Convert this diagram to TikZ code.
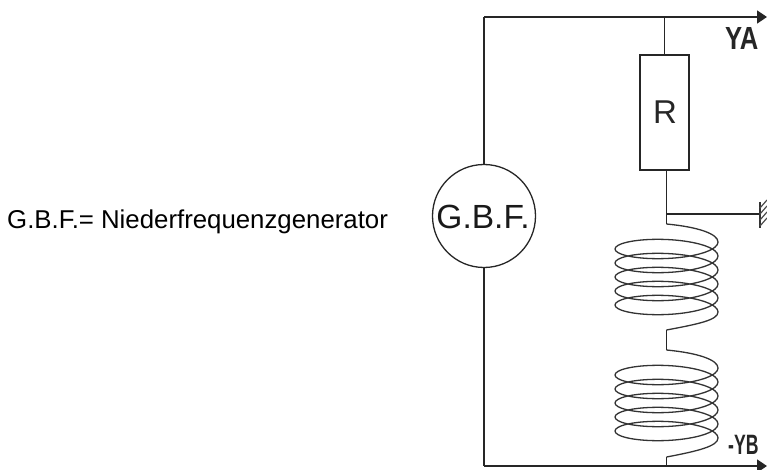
\documentclass[tikz,border=0pt]{standalone}
\usepackage{fontspec}
\setmainfont{Liberation Sans}
\usetikzlibrary{arrows.meta,positioning}
\tikzset{wire/.style={line width=1.7pt,black!85}}
\tikzset{coil/.style={line width=1.3pt,black!80}}
\tikzset{pfeil/.style={-{Triangle[length=10pt,width=13pt]}}}
\tikzset{bauteil/.style={rectangle,draw,line width=1.6pt,black!85,minimum width=49pt,minimum height=115pt,inner sep=0pt}}
\begin{document}
\begin{tikzpicture}[x=1pt,y=-1pt]
 \useasboundingbox (0,0) rectangle (767,470);
 \node[circle,draw,line width=1.3pt,black!85,minimum size=103pt,inner sep=0pt] (gbf) at (484,216) {};
 \node[font=\fontsize{33.5}{33.5}\selectfont,black!90] (gbflabel) at (483,217) {G.B.F.};
 \node[bauteil] (r) at (664.5,112.5) {};
 \node[font=\fontsize{33}{33}\selectfont,black!85] (rlabel) at (665,112) {R};
 \node[font=\fontsize{25.8}{25.8}\selectfont,anchor=west,inner sep=0pt] (text) at (7,222) {G.B.F.= Niederfrequenzgenerator};
 \node[font=\bfseries\fontsize{32}{32}\selectfont,black!85,anchor=west,inner sep=0pt] (ya) at (725,38) {\scalebox{.8}[1]{YA}};
 \node[font=\bfseries\fontsize{28}{28}\selectfont,black!85,anchor=west,inner sep=0pt] (yb) at (728,445) {\scalebox{.63}[1]{-YB}};
 \coordinate (ecke1) at (484,17);
 \coordinate (ecke2) at (484,466);
 \coordinate (aus1) at (767,17);
 \coordinate (aus2) at (767,466);
 \coordinate (k1) at (664.5,17);
 \coordinate (k2) at (666.5,214);
 \coordinate (k3) at (666.5,224);
 \coordinate (k4) at (666.5,330);
 \coordinate (k5) at (666.5,350);
 \coordinate (k6) at (666.5,457);
 \coordinate (k7) at (666.5,466);
 \coordinate (m) at (760,214);
 \draw[wire] (gbf) -- (ecke1);
 \draw[wire] (gbf) -- (ecke2);
 \draw[wire,pfeil] (ecke1) -- (aus1);
 \draw[wire,pfeil] (ecke2) -- (aus2);
 \draw[wire] (k1) -- (r);
 \draw[wire] (r.south -| k2) -- (k3);
 \draw[wire] (k2) -- (m);
 \draw[wire] (k4) -- (k5);
 \draw[wire] (k6) -- (k7);
 % hatched end of the probe
 \draw[line width=1.4pt,black!80] (760,202) -- (760,228);
 \foreach \y in {200,206,212,218}
 \draw[line width=1.2pt,black!70] (760,\y+8) -- (767,\y);
 % the two coils
 \foreach \von/\nach/\ya in {k3/k4/242,k5/k6/368}
 {
 \draw[coil] (\von) .. controls +(32,3) and +(0,-8) .. (718,\ya)
 -- plot[domain=0:1800,samples=181,smooth,variable=\t] ({666.5+51.5*cos(\t)},{\ya+\t/1800*70+13*sin(\t)})
 .. controls +(0,8) and +(32,-6) .. (\nach);
 }
\end{tikzpicture}
\end{document}
